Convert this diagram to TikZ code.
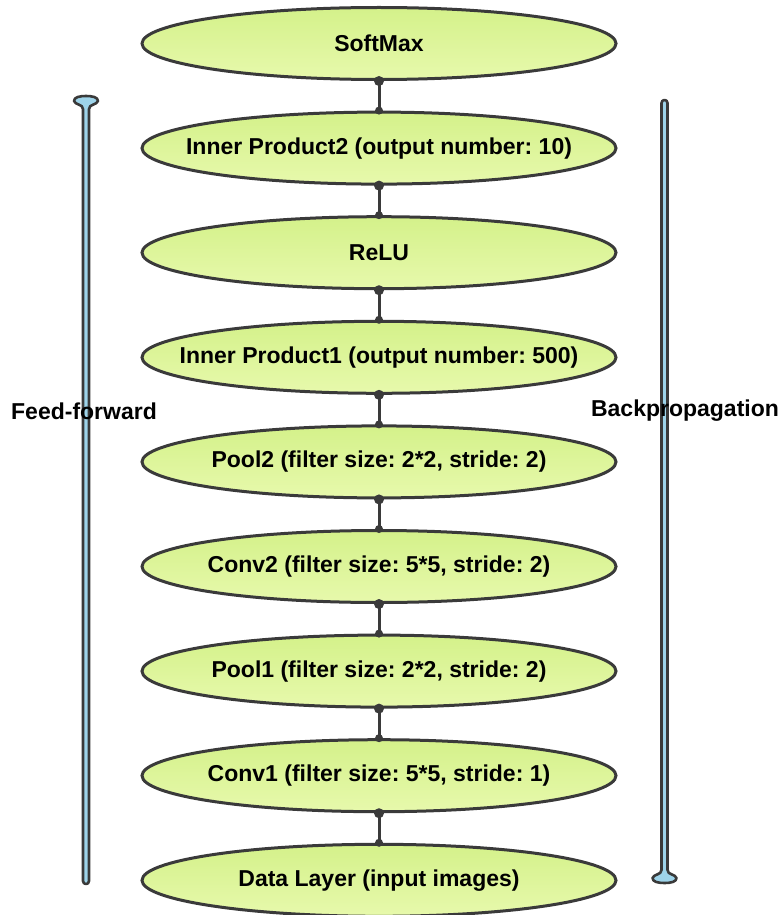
\documentclass[tikz,border=0pt]{standalone}
\usepackage{fontspec}
\setmainfont{Liberation Sans}
\frenchspacing
\usetikzlibrary{shapes.geometric}
\definecolor{layertop}{RGB}{212,241,138}
\definecolor{layerbot}{RGB}{231,249,172}
\definecolor{edgegray}{RGB}{58,58,58}
\definecolor{barblue}{RGB}{158,212,234}
\newcommand{\fixedlabel}[1]{\makebox[0pt][c]{#1}}
\tikzset{
  layer/.style={ellipse, draw=edgegray, line width=3pt, top color=layertop,
    bottom color=layerbot, minimum width=474pt, minimum height=72pt,
    inner sep=0pt, font=\bfseries\fontsize{23}{27}\selectfont},
  link/.style={draw=edgegray, line width=3pt},
  bigdot/.style={fill=edgegray, draw=none},
  bar/.style={draw=edgegray, line width=2.6pt, fill=barblue, line join=round},
  sidelabel/.style={font=\bfseries\fontsize{23}{27}\selectfont, inner sep=0pt}
}
\begin{document}
\begin{tikzpicture}[x=1pt, y=-1pt]
\useasboundingbox (0,0) rectangle (783,915);

% direction bars
\path[bar] (83,881) -- (83,109)
  .. controls (83,104) and (75,105) .. (74,101)
  .. controls (74,97) and (80,96) .. (86,96)
  .. controls (92,96) and (98,97) .. (98,101)
  .. controls (97,105) and (89,104) .. (89,109)
  -- (89,881) .. controls (89,885) and (83,885) .. (83,881) -- cycle;
\path[bar] (661.5,103) .. controls (661.5,99) and (667.5,99) .. (667.5,103)
  -- (667.5,870)
  .. controls (667.5,875) and (675.5,874) .. (676.5,878)
  .. controls (676.5,882) and (670.5,883) .. (664.5,883)
  .. controls (658.5,883) and (652.5,882) .. (652.5,878)
  .. controls (653.5,874) and (661.5,875) .. (661.5,870) -- cycle;

\node[sidelabel] (ff) at (84,411) {Feed-forward};
\node[sidelabel] (bp) at (685,411) {Backpropagation};

% network layers, top to bottom
\node[layer] (l0) at (379,43.5) {\fixedlabel{SoftMax}};
\node[layer] (l1) at (379,148.1) {\fixedlabel{Inner Product2 (output number: 10)}};
\node[layer] (l2) at (379,252.7) {\fixedlabel{ReLU}};
\node[layer] (l3) at (379,357.3) {\fixedlabel{Inner Product1 (output number: 500)}};
\node[layer] (l4) at (379,461.9) {\fixedlabel{Pool2 (filter size: 2*2, stride: 2)}};
\node[layer] (l5) at (379,566.5) {\fixedlabel{Conv2 (filter size: 5*5, stride: 2)}};
\node[layer] (l6) at (379,671.1) {\fixedlabel{Pool1 (filter size: 2*2, stride: 2)}};
\node[layer] (l7) at (379,775.7) {\fixedlabel{Conv1 (filter size: 5*5, stride: 1)}};
\node[layer] (l8) at (379,880.3) {\fixedlabel{Data Layer (input images)}};

% connectors between layers
\foreach \a/\b in {l0/l1,l1/l2,l2/l3,l3/l4,l4/l5,l5/l6,l6/l7,l7/l8}{
  \draw[link] (\a.south) -- (\b.north);
  \fill[bigdot] (\a.south) circle (5pt);
  \fill[bigdot] (\b.north) circle (4pt);
}
\end{tikzpicture}
\end{document}
